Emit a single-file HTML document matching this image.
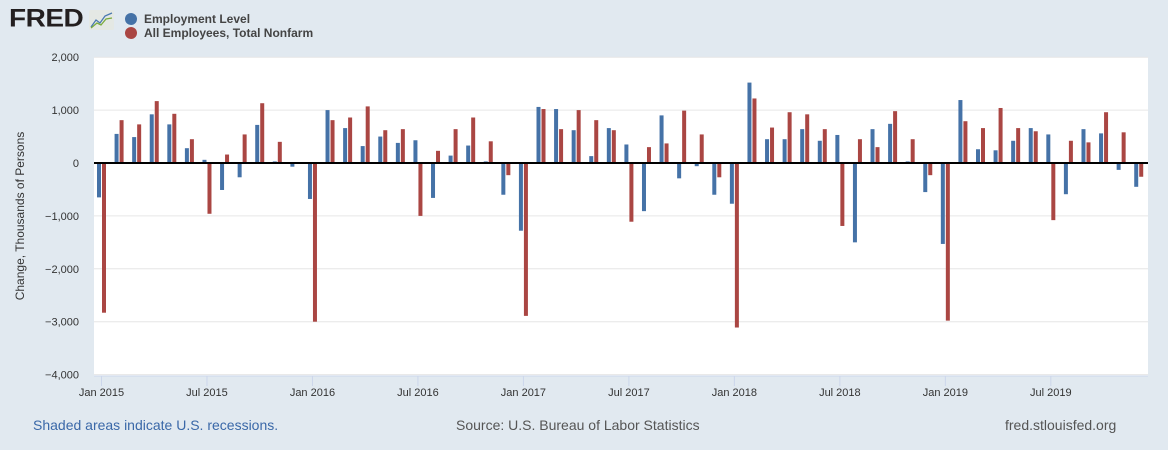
<!DOCTYPE html>
<html><head><meta charset="utf-8"><style>
body{margin:0;width:1168px;height:450px;background:#e1e9f0;font-family:"Liberation Sans",sans-serif;overflow:hidden;position:relative}
.t{position:absolute;white-space:nowrap}
</style></head><body>
<div class="t" style="left:9px;top:4px;font-size:28px;font-weight:900;color:#231f20;letter-spacing:-0.5px;transform:scaleY(0.9);transform-origin:top left">FRED</div>
<svg class="t" style="left:89px;top:10px" width="25" height="20"><rect width="25" height="20" rx="2" fill="#e4e8e4"/><polyline points="2,17 7,10 11,13 16,6 23,3" fill="none" stroke="#4a79b0" stroke-width="1.3"/><polyline points="2,18 8,13 12,15 17,9 23,8" fill="none" stroke="#7aab3d" stroke-width="1.3"/></svg>
<div class="t" style="left:125px;top:12px;font-size:12px;font-weight:bold;color:#444"><span style="display:inline-block;width:12px;height:12px;border-radius:6px;background:#4572a7;vertical-align:-2px;margin-right:7px"></span>Employment Level</div>
<div class="t" style="left:125px;top:26px;font-size:12px;font-weight:bold;color:#444"><span style="display:inline-block;width:12px;height:12px;border-radius:6px;background:#aa4643;vertical-align:-2px;margin-right:7px"></span>All Employees, Total Nonfarm</div>
<svg id="chart" class="t" style="left:0;top:0" width="1168" height="450"></svg>
<div class="t" style="left:33px;top:417px;font-size:14px;color:#3a68a8">Shaded areas indicate U.S. recessions.</div>
<div class="t" style="left:456px;top:417px;font-size:14px;color:#555">Source: U.S. Bureau of Labor Statistics</div>
<div class="t" style="left:1005px;top:417px;font-size:14px;color:#555">fred.stlouisfed.org</div>
<script>
const employment=[-650,550,490,920,730,280,60,-510,-270,720,30,-70,
-680,1000,660,320,500,380,430,-660,140,330,30,-600,
-1280,1060,1020,620,130,660,350,-910,900,-290,-60,-600,
-770,1520,450,450,640,420,530,-1500,640,740,30,-550,
-1530,1190,260,240,420,660,540,-590,640,560,-130,-450];
const nonfarm=[-2830,810,730,1170,930,450,-960,160,540,1130,400,0,
-3000,810,860,1070,620,640,-1000,230,640,860,410,-230,
-2890,1020,640,1000,810,620,-1110,300,370,990,540,-270,
-3110,1220,670,960,920,640,-1190,450,300,980,450,-230,
-2980,790,660,1040,660,600,-1080,420,390,960,580,-260];
const yTicks=[2000,1000,0,-1000,-2000,-3000,-4000];
const xLabels=["Jan 2015","Jul 2015","Jan 2016","Jul 2016","Jan 2017","Jul 2017","Jan 2018","Jul 2018","Jan 2019","Jul 2019"];
const NS="http://www.w3.org/2000/svg",svg=document.getElementById('chart');
const X=i=>101.5+i*17.58, Y=v=>163-v*0.0529;
function mk(t,a){const e=document.createElementNS(NS,t);for(const k in a)e.setAttribute(k,a[k]);svg.appendChild(e);return e;}
let p=mk('rect',{x:94,y:57,width:1054,height:319,fill:'#fff'});


yTicks.forEach(v=>{
 let g=mk('line',{x1:94,x2:1148,y1:Y(v),y2:Y(v),stroke:'#e6e6e6','stroke-width':1});
 
 
 let t=mk('text',{x:79,y:Y(v)+4,'text-anchor':'end','font-size':11,fill:'#333'});
 t.textContent=(v<0?'\u2212':'')+Math.abs(v).toLocaleString('en-US');
 
 
});
let ax=mk('line',{x1:94,x2:1148,y1:376,y2:376,stroke:'#ccd6eb'});


xLabels.forEach((l,k)=>{
 const x=X(k*6);
 let tk=mk('line',{x1:x,x2:x,y1:376,y2:386,stroke:'#ccd6eb'});
 
 
 let t=mk('text',{x:x,y:396,'text-anchor':'middle','font-size':11,fill:'#333'});
 t.textContent=l;
 
 
});
employment.forEach((v,i)=>{
 let r=mk('rect',{x:X(i)-4.5,width:4,y:Math.min(Y(v),163),height:Math.abs(Y(v)-163),fill:'#4572a7'});
 
 
});
nonfarm.forEach((v,i)=>{
 let r=mk('rect',{x:X(i)+0.5,width:4,y:Math.min(Y(v),163),height:Math.abs(Y(v)-163),fill:'#aa4643'});
 
 
});
let z=mk('line',{x1:94,x2:1148,y1:163,y2:163,stroke:'#000','stroke-width':2});


let yt=mk('text',{x:0,y:0,'text-anchor':'middle','font-size':12,fill:'#333',transform:'translate(24,216) rotate(-90)'});
yt.textContent='Change, Thousands of Persons';


</script>
</body></html>
